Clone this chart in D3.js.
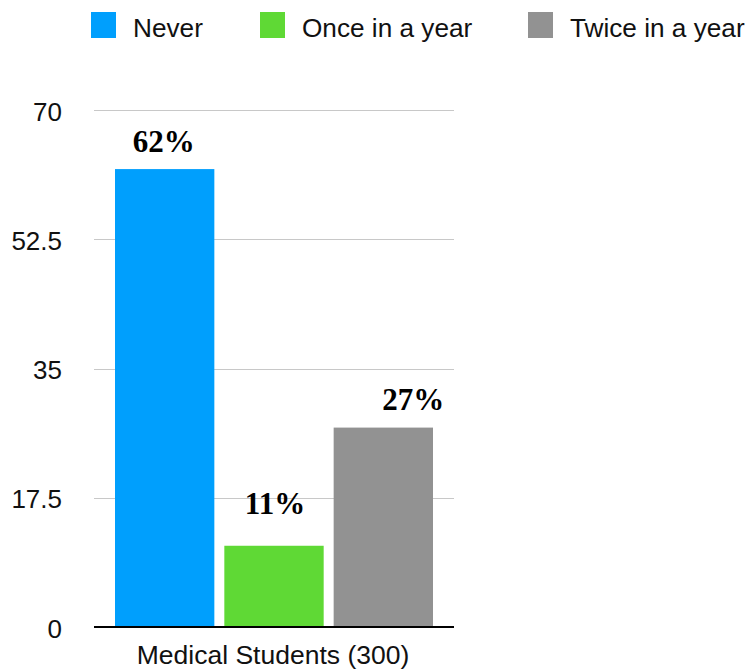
<!DOCTYPE html>
<html>
<head>
<meta charset="utf-8">
<script src="https://cdn.jsdelivr.net/npm/d3@7/dist/d3.min.js"></script>
<style>
  html, body { margin: 0; padding: 0; background: #fff; }
  svg { display: block; }
</style>
</head>
<body>
<svg id="chart" width="750" height="671"></svg>
<script>
// ---- data ----
const categories = ["Medical Students (300)"];
const seriesNames = ["Never", "Once in a year", "Twice in a year"];
const seriesValues = [62, 11, 27];
const valueLabels = ["62%", "11%", "27%"];
const yTicks = [0, 17.5, 35, 52.5, 70];
const seriesColors = ["#009ffd", "#5fd935", "#929292"];

// ---- layout ----
const svg = d3.select("#chart");
const plotLeft = 94, plotRight = 454, plotTop = 110, plotBottom = 627;
const sansFont = "'Liberation Sans', Arial, Helvetica, sans-serif";
const serifFont = "'Liberation Serif', 'Times New Roman', serif";

const y = d3.scaleLinear().domain([0, 70]).range([plotBottom, plotTop]);
const xCat = d3.scaleBand().domain(categories).range([plotLeft, plotRight]);
const xSeries = d3.scaleBand().domain(seriesNames).range([115, 433]).paddingInner(0.0913).paddingOuter(0);

// gridlines
svg.append("g").selectAll("line")
  .data(yTicks.filter(t => t !== 0))
  .join("line")
  .attr("x1", plotLeft).attr("x2", plotRight)
  .attr("y1", d => Math.round(y(d)) + 0.5).attr("y2", d => Math.round(y(d)) + 0.5)
  .attr("stroke", "#c8c8c8").attr("stroke-width", 1);

// y tick labels
svg.append("g").selectAll("text")
  .data(yTicks)
  .join("text")
  .attr("x", 62)
  .attr("y", d => y(d) + 10.5)
  .attr("text-anchor", "end")
  .attr("font-family", sansFont)
  .attr("font-size", 26)
  .attr("fill", "#111")
  .text(d => d);

// bars
const barData = seriesNames.map((s, i) => ({ name: s, value: seriesValues[i], label: valueLabels[i], color: seriesColors[i] }));
svg.append("g").selectAll("rect")
  .data(barData)
  .join("rect")
  .attr("x", d => xSeries(d.name))
  .attr("width", xSeries.bandwidth())
  .attr("y", d => y(d.value))
  .attr("height", d => y(0) - y(d.value))
  .attr("fill", d => d.color);

// value labels (offsets as in the original)
const labelDx = [-1, 1, 30];
const labelDy = [-17, -32, -18];
svg.append("g").selectAll("text")
  .data(barData)
  .join("text")
  .attr("x", (d, i) => xSeries(d.name) + xSeries.bandwidth() / 2 + labelDx[i])
  .attr("y", (d, i) => y(d.value) + labelDy[i])
  .attr("text-anchor", "middle")
  .attr("font-family", serifFont)
  .attr("font-weight", "bold")
  .attr("font-size", 31)
  .attr("fill", "#000")
  .text(d => d.label);

// x axis baseline
svg.append("line")
  .attr("x1", plotLeft).attr("x2", plotRight)
  .attr("y1", y(0)).attr("y2", y(0))
  .attr("stroke", "#000").attr("stroke-width", 2);

// category label
svg.append("g").selectAll("text")
  .data(categories)
  .join("text")
  .attr("x", d => xCat(d) + xCat.bandwidth() / 2 - 1)
  .attr("y", 664)
  .attr("text-anchor", "middle")
  .attr("font-family", sansFont)
  .attr("font-size", 26.5)
  .attr("fill", "#111")
  .text(d => d);

// legend
const legendX = [91, 260, 528];
const legend = svg.append("g").selectAll("g")
  .data(barData)
  .join("g")
  .attr("transform", (d, i) => `translate(${legendX[i]},0)`);
legend.append("rect")
  .attr("x", 0).attr("y", 12).attr("width", 25).attr("height", 26)
  .attr("fill", d => d.color);
legend.append("text")
  .attr("x", 42).attr("y", 37)
  .attr("font-family", sansFont)
  .attr("font-size", 26.2)
  .attr("fill", "#111")
  .text(d => d.name);
</script>
</body>
</html>
